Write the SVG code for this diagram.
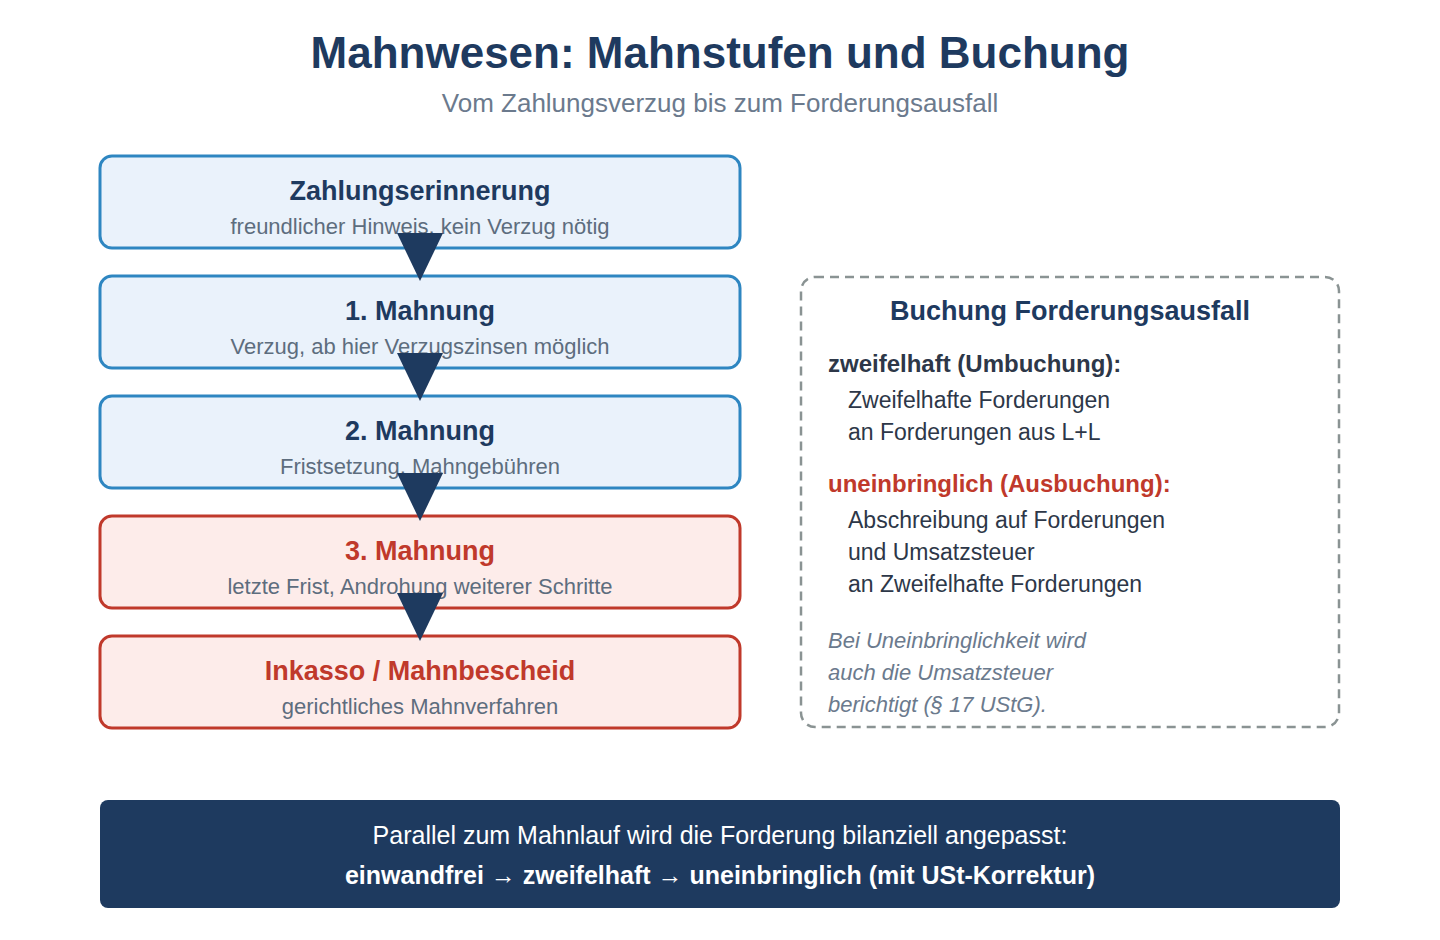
<svg xmlns="http://www.w3.org/2000/svg" width="1440" height="940" viewBox="0 0 1440 940">
<style>
text{font-family:"Liberation Sans",Arial,sans-serif}
.h1{font-size:44px;font-weight:bold;fill:#1e3a5f;text-anchor:middle}
.h2{font-size:26px;fill:#6b7a8d;text-anchor:middle}
.bt{font-size:27px;font-weight:bold;text-anchor:middle}
.bs{font-size:22px;fill:#5d6d7e;text-anchor:middle}
.blue rect{fill:#eaf2fb;stroke:#2e86c1;stroke-width:3}
.red rect{fill:#fdecea;stroke:#c0392b;stroke-width:3}
.blue .bt{fill:#1e3a5f}
.red .bt{fill:#c0392b}
.arr{fill:#1e3a5f}
.pt{font-size:27px;font-weight:bold;fill:#1e3a5f;text-anchor:middle}
.ph{font-size:24px;font-weight:bold}
.pl{font-size:23px;fill:#2d3748}
.pi{font-size:22px;font-style:italic;fill:#6b7a8d}
.bn{font-size:25px;fill:#ffffff;text-anchor:middle}
</style>
<rect width="1440" height="940" fill="#ffffff"/>
<g id="title">
<text class="h1" x="720" y="68">Mahnwesen: Mahnstufen und Buchung</text>
<text class="h2" x="720" y="112">Vom Zahlungsverzug bis zum Forderungsausfall</text>
</g>
<g id="n1" class="blue">
<rect x="100" y="156" width="640" height="92" rx="12"/>
<text class="bt" x="420" y="200">Zahlungserinnerung</text>
<text class="bs" x="420" y="234">freundlicher Hinweis, kein Verzug nötig</text>
</g>
<g id="n2" class="blue">
<rect x="100" y="276" width="640" height="92" rx="12"/>
<text class="bt" x="420" y="320">1. Mahnung</text>
<text class="bs" x="420" y="354">Verzug, ab hier Verzugszinsen möglich</text>
</g>
<g id="n3" class="blue">
<rect x="100" y="396" width="640" height="92" rx="12"/>
<text class="bt" x="420" y="440">2. Mahnung</text>
<text class="bs" x="420" y="474">Fristsetzung, Mahngebühren</text>
</g>
<g id="n4" class="red">
<rect x="100" y="516" width="640" height="92" rx="12"/>
<text class="bt" x="420" y="560">3. Mahnung</text>
<text class="bs" x="420" y="594">letzte Frist, Androhung weiterer Schritte</text>
</g>
<g id="n5" class="red">
<rect x="100" y="636" width="640" height="92" rx="12"/>
<text class="bt" x="420" y="680">Inkasso / Mahnbescheid</text>
<text class="bs" x="420" y="714">gerichtliches Mahnverfahren</text>
</g>
<g id="connectors">
<polygon class="arr" points="397,233 443,233 420,281"/>
<polygon class="arr" points="397,353 443,353 420,401"/>
<polygon class="arr" points="397,473 443,473 420,521"/>
<polygon class="arr" points="397,593 443,593 420,641"/>
</g>
<g id="panel">
<rect x="801" y="277" width="538" height="450" rx="14" fill="#ffffff" stroke="#8a9393" stroke-width="2.5" stroke-dasharray="9,6"/>
<text class="pt" x="1070" y="320">Buchung Forderungsausfall</text>
<text class="ph" x="828" y="372" fill="#2d3748">zweifelhaft (Umbuchung):</text>
<text class="pl" x="848" y="408">Zweifelhafte Forderungen</text>
<text class="pl" x="848" y="440">an Forderungen aus L+L</text>
<text class="ph" x="828" y="492" fill="#c0392b">uneinbringlich (Ausbuchung):</text>
<text class="pl" x="848" y="528">Abschreibung auf Forderungen</text>
<text class="pl" x="848" y="560">und Umsatzsteuer</text>
<text class="pl" x="848" y="592">an Zweifelhafte Forderungen</text>
<text class="pi" x="828" y="648">Bei Uneinbringlichkeit wird</text>
<text class="pi" x="828" y="680">auch die Umsatzsteuer</text>
<text class="pi" x="828" y="712">berichtigt (§ 17 UStG).</text>
</g>
<g id="banner">
<rect x="100" y="800" width="1240" height="108" rx="8" fill="#1e3a5f"/>
<text class="bn" x="720" y="844">Parallel zum Mahnlauf wird die Forderung bilanziell angepasst:</text>
<text class="bn" x="720" y="884" font-weight="bold">einwandfrei → zweifelhaft → uneinbringlich (mit USt-Korrektur)</text>
</g>
</svg>
